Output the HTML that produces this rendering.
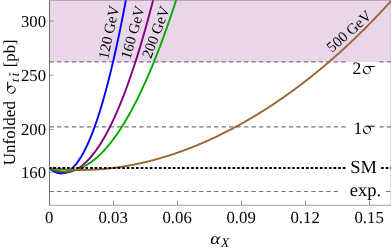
<!DOCTYPE html>
<html><head><meta charset="utf-8"><style>
html,body{margin:0;padding:0;background:#fff;}
svg{display:block;will-change:transform;}
text{font-family:"Liberation Serif",serif;fill:#000;text-rendering:geometricPrecision;}
</style></head><body>
<svg width="391" height="248" viewBox="0 0 391 248">
<rect width="391" height="248" fill="#fff"/>
<defs><g id="sig"><path fill="#000" fill-rule="evenodd" d="M7.40,-2.08A3.75,4.2 30 1 0 0.90,-5.83A3.75,4.2 30 1 0 7.40,-2.08ZM6.57,-5.46A2.85,3.35 -32 1 0 1.73,-2.44A2.85,3.35 -32 1 0 6.57,-5.46Z"/><path fill="#000" d="M4.6,-8.05 L11.9,-8.05 Q12.3,-7.6 11.6,-7.05 L5.6,-7.05 Z"/></g><clipPath id="c"><rect x="49.5" y="0" width="341.5" height="205"/></clipPath></defs>
<rect x="49.5" y="0" width="341" height="61.9" fill="#E9D6E9"/>
<g stroke="#747474" stroke-width="1.15" stroke-dasharray="4.35 3.13" fill="none">
<path d="M49.5,61.9H346"/><path d="M379.3,61.9H391"/>
<path d="M49.5,126.9H346"/><path d="M379.3,126.9H391"/>
<path d="M49.5,191.5H339"/><path d="M385.9,191.5H391"/>
</g>
<g clip-path="url(#c)">
<path d="M49.50,168.00 L50.00,168.46 L50.50,168.91 L51.00,169.33 L51.50,169.73 L52.00,170.11 L52.50,170.47 L53.00,170.81 L53.50,171.13 L54.00,171.43 L54.50,171.70 L55.00,171.96 L55.50,172.20 L56.00,172.41 L56.50,172.61 L57.00,172.78 L57.50,172.94 L58.00,173.07 L58.50,173.19 L59.00,173.28 L59.50,173.35 L60.00,173.40 L60.50,173.43 L61.00,173.44 L61.50,173.43 L62.00,173.40 L62.50,173.35 L63.00,173.28 L63.50,173.18 L64.00,173.07 L64.50,172.94 L65.00,172.78 L65.50,172.61 L66.00,172.41 L66.50,172.19 L67.00,171.96 L67.50,171.70 L68.00,171.42 L68.50,171.12 L69.00,170.80 L69.50,170.46 L70.00,170.10 L70.50,169.72 L71.00,169.32 L71.50,168.90 L72.00,168.45 L72.50,167.99 L73.00,167.50 L73.50,167.00 L74.00,166.47 L74.50,165.93 L75.00,165.36 L75.50,164.77 L76.00,164.17 L76.50,163.54 L77.00,162.89 L77.50,162.22 L78.00,161.53 L78.50,160.82 L79.00,160.09 L79.50,159.34 L80.00,158.56 L80.50,157.77 L81.00,156.96 L81.50,156.12 L82.00,155.27 L82.50,154.39 L83.00,153.50 L83.50,152.58 L84.00,151.64 L84.50,150.68 L85.00,149.71 L85.50,148.71 L86.00,147.69 L86.50,146.65 L87.00,145.59 L87.50,144.50 L88.00,143.40 L88.50,142.28 L89.00,141.14 L89.50,139.97 L90.00,138.79 L90.50,137.58 L91.00,136.36 L91.50,135.11 L92.00,133.85 L92.50,132.56 L93.00,131.25 L93.50,129.92 L94.00,128.57 L94.50,127.20 L95.00,125.81 L95.50,124.40 L96.00,122.97 L96.50,121.52 L97.00,120.05 L97.50,118.55 L98.00,117.04 L98.50,115.50 L99.00,113.95 L99.50,112.37 L100.00,110.78 L100.50,109.16 L101.00,107.52 L101.50,105.86 L102.00,104.19 L102.50,102.49 L103.00,100.77 L103.50,99.03 L104.00,97.27 L104.50,95.48 L105.00,93.68 L105.50,91.86 L106.00,90.02 L106.50,88.15 L107.00,86.27 L107.50,84.36 L108.00,82.44 L108.50,80.49 L109.00,78.52 L109.50,76.54 L110.00,74.53 L110.50,72.50 L111.00,70.45 L111.50,68.38 L112.00,66.29 L112.50,64.18 L113.00,62.05 L113.50,59.89 L114.00,57.72 L114.50,55.53 L115.00,53.31 L115.50,51.08 L116.00,48.82 L116.50,46.55 L117.00,44.25 L117.50,41.93 L118.00,39.60 L118.50,37.24 L119.00,34.86 L119.50,32.46 L120.00,30.04 L120.50,27.60 L121.00,25.14 L121.50,22.66 L122.00,20.15 L122.50,17.63 L123.00,15.09 L123.50,12.52 L124.00,9.94 L124.50,7.33 L125.00,4.71 L125.50,2.06 L126.00,-0.61 L126.50,-3.29" fill="none" stroke="#0000FF" stroke-width="1.9" stroke-linejoin="round"/>
<path d="M49.50,168.00 L50.00,168.31 L50.50,168.61 L51.00,168.90 L51.50,169.18 L52.00,169.45 L52.50,169.71 L53.00,169.95 L53.50,170.19 L54.00,170.41 L54.50,170.63 L55.00,170.83 L55.50,171.02 L56.00,171.20 L56.50,171.38 L57.00,171.53 L57.50,171.68 L58.00,171.82 L58.50,171.95 L59.00,172.06 L59.50,172.17 L60.00,172.26 L60.50,172.35 L61.00,172.42 L61.50,172.48 L62.00,172.53 L62.50,172.57 L63.00,172.60 L63.50,172.62 L64.00,172.63 L64.50,172.62 L65.00,172.61 L65.50,172.58 L66.00,172.54 L66.50,172.50 L67.00,172.44 L67.50,172.37 L68.00,172.29 L68.50,172.20 L69.00,172.10 L69.50,171.99 L70.00,171.86 L70.50,171.73 L71.00,171.58 L71.50,171.43 L72.00,171.26 L72.50,171.08 L73.00,170.89 L73.50,170.69 L74.00,170.48 L74.50,170.26 L75.00,170.03 L75.50,169.79 L76.00,169.53 L76.50,169.27 L77.00,168.99 L77.50,168.71 L78.00,168.41 L78.50,168.10 L79.00,167.78 L79.50,167.45 L80.00,167.11 L80.50,166.76 L81.00,166.40 L81.50,166.02 L82.00,165.64 L82.50,165.24 L83.00,164.84 L83.50,164.42 L84.00,163.99 L84.50,163.55 L85.00,163.10 L85.50,162.64 L86.00,162.17 L86.50,161.69 L87.00,161.19 L87.50,160.69 L88.00,160.18 L88.50,159.65 L89.00,159.11 L89.50,158.56 L90.00,158.01 L90.50,157.44 L91.00,156.86 L91.50,156.27 L92.00,155.66 L92.50,155.05 L93.00,154.43 L93.50,153.79 L94.00,153.15 L94.50,152.49 L95.00,151.82 L95.50,151.14 L96.00,150.45 L96.50,149.75 L97.00,149.04 L97.50,148.32 L98.00,147.59 L98.50,146.85 L99.00,146.09 L99.50,145.33 L100.00,144.55 L100.50,143.76 L101.00,142.97 L101.50,142.16 L102.00,141.34 L102.50,140.51 L103.00,139.66 L103.50,138.81 L104.00,137.95 L104.50,137.08 L105.00,136.19 L105.50,135.29 L106.00,134.39 L106.50,133.47 L107.00,132.54 L107.50,131.60 L108.00,130.65 L108.50,129.69 L109.00,128.72 L109.50,127.74 L110.00,126.74 L110.50,125.74 L111.00,124.72 L111.50,123.70 L112.00,122.66 L112.50,121.61 L113.00,120.55 L113.50,119.48 L114.00,118.40 L114.50,117.31 L115.00,116.21 L115.50,115.09 L116.00,113.97 L116.50,112.83 L117.00,111.69 L117.50,110.53 L118.00,109.36 L118.50,108.18 L119.00,106.99 L119.50,105.79 L120.00,104.58 L120.50,103.36 L121.00,102.13 L121.50,100.88 L122.00,99.63 L122.50,98.36 L123.00,97.09 L123.50,95.80 L124.00,94.50 L124.50,93.19 L125.00,91.87 L125.50,90.54 L126.00,89.20 L126.50,87.85 L127.00,86.48 L127.50,85.11 L128.00,83.72 L128.50,82.33 L129.00,80.92 L129.50,79.50 L130.00,78.07 L130.50,76.63 L131.00,75.18 L131.50,73.72 L132.00,72.25 L132.50,70.76 L133.00,69.27 L133.50,67.76 L134.00,66.25 L134.50,64.72 L135.00,63.18 L135.50,61.64 L136.00,60.08 L136.50,58.51 L137.00,56.92 L137.50,55.33 L138.00,53.73 L138.50,52.12 L139.00,50.49 L139.50,48.85 L140.00,47.21 L140.50,45.55 L141.00,43.88 L141.50,42.20 L142.00,40.51 L142.50,38.81 L143.00,37.10 L143.50,35.38 L144.00,33.64 L144.50,31.90 L145.00,30.14 L145.50,28.38 L146.00,26.60 L146.50,24.81 L147.00,23.01 L147.50,21.21 L148.00,19.38 L148.50,17.55 L149.00,15.71 L149.50,13.86 L150.00,11.99 L150.50,10.12 L151.00,8.23 L151.50,6.34 L152.00,4.43 L152.50,2.51 L153.00,0.58 L153.50,-1.36 L154.00,-3.31" fill="none" stroke="#800080" stroke-width="1.9" stroke-linejoin="round"/>
<path d="M49.50,168.00 L50.00,168.22 L50.50,168.42 L51.00,168.63 L51.50,168.82 L52.00,169.01 L52.50,169.19 L53.00,169.36 L53.50,169.53 L54.00,169.69 L54.50,169.84 L55.00,169.99 L55.50,170.13 L56.00,170.26 L56.50,170.39 L57.00,170.50 L57.50,170.61 L58.00,170.72 L58.50,170.82 L59.00,170.91 L59.50,170.99 L60.00,171.07 L60.50,171.14 L61.00,171.20 L61.50,171.25 L62.00,171.30 L62.50,171.34 L63.00,171.38 L63.50,171.41 L64.00,171.43 L64.50,171.44 L65.00,171.45 L65.50,171.45 L66.00,171.44 L66.50,171.43 L67.00,171.40 L67.50,171.38 L68.00,171.34 L68.50,171.30 L69.00,171.25 L69.50,171.19 L70.00,171.13 L70.50,171.06 L71.00,170.98 L71.50,170.90 L72.00,170.81 L72.50,170.71 L73.00,170.61 L73.50,170.50 L74.00,170.38 L74.50,170.25 L75.00,170.12 L75.50,169.98 L76.00,169.83 L76.50,169.68 L77.00,169.52 L77.50,169.35 L78.00,169.18 L78.50,169.00 L79.00,168.81 L79.50,168.61 L80.00,168.41 L80.50,168.20 L81.00,167.99 L81.50,167.76 L82.00,167.53 L82.50,167.30 L83.00,167.05 L83.50,166.80 L84.00,166.54 L84.50,166.28 L85.00,166.01 L85.50,165.73 L86.00,165.44 L86.50,165.15 L87.00,164.85 L87.50,164.54 L88.00,164.23 L88.50,163.91 L89.00,163.58 L89.50,163.25 L90.00,162.91 L90.50,162.56 L91.00,162.20 L91.50,161.84 L92.00,161.47 L92.50,161.09 L93.00,160.71 L93.50,160.32 L94.00,159.92 L94.50,159.52 L95.00,159.11 L95.50,158.69 L96.00,158.27 L96.50,157.83 L97.00,157.40 L97.50,156.95 L98.00,156.50 L98.50,156.04 L99.00,155.57 L99.50,155.10 L100.00,154.62 L100.50,154.13 L101.00,153.63 L101.50,153.13 L102.00,152.62 L102.50,152.11 L103.00,151.59 L103.50,151.06 L104.00,150.52 L104.50,149.98 L105.00,149.43 L105.50,148.87 L106.00,148.30 L106.50,147.73 L107.00,147.15 L107.50,146.57 L108.00,145.98 L108.50,145.38 L109.00,144.77 L109.50,144.16 L110.00,143.54 L110.50,142.91 L111.00,142.28 L111.50,141.64 L112.00,140.99 L112.50,140.34 L113.00,139.67 L113.50,139.01 L114.00,138.33 L114.50,137.65 L115.00,136.96 L115.50,136.26 L116.00,135.56 L116.50,134.85 L117.00,134.13 L117.50,133.40 L118.00,132.67 L118.50,131.94 L119.00,131.19 L119.50,130.44 L120.00,129.68 L120.50,128.91 L121.00,128.14 L121.50,127.36 L122.00,126.57 L122.50,125.78 L123.00,124.98 L123.50,124.17 L124.00,123.35 L124.50,122.53 L125.00,121.70 L125.50,120.87 L126.00,120.02 L126.50,119.18 L127.00,118.32 L127.50,117.45 L128.00,116.58 L128.50,115.71 L129.00,114.82 L129.50,113.93 L130.00,113.03 L130.50,112.13 L131.00,111.21 L131.50,110.29 L132.00,109.37 L132.50,108.44 L133.00,107.49 L133.50,106.55 L134.00,105.59 L134.50,104.63 L135.00,103.66 L135.50,102.69 L136.00,101.71 L136.50,100.72 L137.00,99.72 L137.50,98.72 L138.00,97.71 L138.50,96.69 L139.00,95.67 L139.50,94.64 L140.00,93.60 L140.50,92.56 L141.00,91.50 L141.50,90.45 L142.00,89.38 L142.50,88.31 L143.00,87.23 L143.50,86.14 L144.00,85.05 L144.50,83.95 L145.00,82.84 L145.50,81.73 L146.00,80.60 L146.50,79.48 L147.00,78.34 L147.50,77.20 L148.00,76.05 L148.50,74.89 L149.00,73.73 L149.50,72.56 L150.00,71.38 L150.50,70.20 L151.00,69.01 L151.50,67.81 L152.00,66.61 L152.50,65.39 L153.00,64.17 L153.50,62.95 L154.00,61.72 L154.50,60.48 L155.00,59.23 L155.50,57.98 L156.00,56.72 L156.50,55.45 L157.00,54.17 L157.50,52.89 L158.00,51.60 L158.50,50.31 L159.00,49.01 L159.50,47.70 L160.00,46.38 L160.50,45.06 L161.00,43.73 L161.50,42.39 L162.00,41.05 L162.50,39.69 L163.00,38.34 L163.50,36.97 L164.00,35.60 L164.50,34.22 L165.00,32.83 L165.50,31.44 L166.00,30.04 L166.50,28.64 L167.00,27.22 L167.50,25.80 L168.00,24.37 L168.50,22.94 L169.00,21.50 L169.50,20.05 L170.00,18.59 L170.50,17.13 L171.00,15.66 L171.50,14.18 L172.00,12.70 L172.50,11.21 L173.00,9.71 L173.50,8.21 L174.00,6.70 L174.50,5.18 L175.00,3.65 L175.50,2.12 L176.00,0.58 L176.50,-0.96 L177.00,-2.52" fill="none" stroke="#00AA00" stroke-width="1.9" stroke-linejoin="round"/>
<path d="M49.50,168.00 L50.00,168.06 L50.50,168.13 L51.00,168.19 L51.50,168.25 L52.00,168.31 L52.50,168.37 L53.00,168.43 L53.50,168.48 L54.00,168.54 L54.50,168.59 L55.00,168.64 L55.50,168.70 L56.00,168.75 L56.50,168.80 L57.00,168.85 L57.50,168.90 L58.00,168.94 L58.50,168.99 L59.00,169.03 L59.50,169.08 L60.00,169.12 L60.50,169.16 L61.00,169.20 L61.50,169.24 L62.00,169.28 L62.50,169.32 L63.00,169.35 L63.50,169.39 L64.00,169.42 L64.50,169.46 L65.00,169.49 L65.50,169.52 L66.00,169.55 L66.50,169.58 L67.00,169.61 L67.50,169.64 L68.00,169.66 L68.50,169.69 L69.00,169.71 L69.50,169.73 L70.00,169.76 L70.50,169.78 L71.00,169.80 L71.50,169.82 L72.00,169.83 L72.50,169.85 L73.00,169.87 L73.50,169.88 L74.00,169.90 L74.50,169.91 L75.00,169.92 L75.50,169.93 L76.00,169.94 L76.50,169.95 L77.00,169.96 L77.50,169.97 L78.00,169.97 L78.50,169.98 L79.00,169.98 L79.50,169.98 L80.00,169.99 L80.50,169.99 L81.00,169.99 L81.50,169.99 L82.00,169.98 L82.50,169.98 L83.00,169.98 L83.50,169.97 L84.00,169.97 L84.50,169.96 L85.00,169.95 L85.50,169.94 L86.00,169.93 L86.50,169.92 L87.00,169.91 L87.50,169.90 L88.00,169.88 L88.50,169.87 L89.00,169.85 L89.50,169.83 L90.00,169.82 L90.50,169.80 L91.00,169.78 L91.50,169.76 L92.00,169.74 L92.50,169.71 L93.00,169.69 L93.50,169.67 L94.00,169.64 L94.50,169.61 L95.00,169.59 L95.50,169.56 L96.00,169.53 L96.50,169.50 L97.00,169.47 L97.50,169.44 L98.00,169.40 L98.50,169.37 L99.00,169.33 L99.50,169.30 L100.00,169.26 L100.50,169.22 L101.00,169.18 L101.50,169.15 L102.00,169.10 L102.50,169.06 L103.00,169.02 L103.50,168.98 L104.00,168.93 L104.50,168.89 L105.00,168.84 L105.50,168.79 L106.00,168.75 L106.50,168.70 L107.00,168.65 L107.50,168.60 L108.00,168.54 L108.50,168.49 L109.00,168.44 L109.50,168.38 L110.00,168.33 L110.50,168.27 L111.00,168.21 L111.50,168.15 L112.00,168.10 L112.50,168.04 L113.00,167.97 L113.50,167.91 L114.00,167.85 L114.50,167.79 L115.00,167.72 L115.50,167.65 L116.00,167.59 L116.50,167.52 L117.00,167.45 L117.50,167.38 L118.00,167.31 L118.50,167.24 L119.00,167.17 L119.50,167.10 L120.00,167.02 L120.50,166.95 L121.00,166.87 L121.50,166.80 L122.00,166.72 L122.50,166.64 L123.00,166.56 L123.50,166.48 L124.00,166.40 L124.50,166.32 L125.00,166.23 L125.50,166.15 L126.00,166.07 L126.50,165.98 L127.00,165.89 L127.50,165.81 L128.00,165.72 L128.50,165.63 L129.00,165.54 L129.50,165.45 L130.00,165.36 L130.50,165.26 L131.00,165.17 L131.50,165.07 L132.00,164.98 L132.50,164.88 L133.00,164.79 L133.50,164.69 L134.00,164.59 L134.50,164.49 L135.00,164.39 L135.50,164.29 L136.00,164.18 L136.50,164.08 L137.00,163.98 L137.50,163.87 L138.00,163.76 L138.50,163.66 L139.00,163.55 L139.50,163.44 L140.00,163.33 L140.50,163.22 L141.00,163.11 L141.50,163.00 L142.00,162.88 L142.50,162.77 L143.00,162.66 L143.50,162.54 L144.00,162.42 L144.50,162.31 L145.00,162.19 L145.50,162.07 L146.00,161.95 L146.50,161.83 L147.00,161.71 L147.50,161.58 L148.00,161.46 L148.50,161.34 L149.00,161.21 L149.50,161.08 L150.00,160.96 L150.50,160.83 L151.00,160.70 L151.50,160.57 L152.00,160.44 L152.50,160.31 L153.00,160.18 L153.50,160.05 L154.00,159.91 L154.50,159.78 L155.00,159.64 L155.50,159.51 L156.00,159.37 L156.50,159.23 L157.00,159.09 L157.50,158.95 L158.00,158.81 L158.50,158.67 L159.00,158.53 L159.50,158.38 L160.00,158.24 L160.50,158.09 L161.00,157.95 L161.50,157.80 L162.00,157.66 L162.50,157.51 L163.00,157.36 L163.50,157.21 L164.00,157.06 L164.50,156.91 L165.00,156.75 L165.50,156.60 L166.00,156.45 L166.50,156.29 L167.00,156.13 L167.50,155.98 L168.00,155.82 L168.50,155.66 L169.00,155.50 L169.50,155.34 L170.00,155.18 L170.50,155.02 L171.00,154.86 L171.50,154.69 L172.00,154.53 L172.50,154.36 L173.00,154.20 L173.50,154.03 L174.00,153.86 L174.50,153.70 L175.00,153.53 L175.50,153.36 L176.00,153.19 L176.50,153.01 L177.00,152.84 L177.50,152.67 L178.00,152.49 L178.50,152.32 L179.00,152.14 L179.50,151.97 L180.00,151.79 L180.50,151.61 L181.00,151.43 L181.50,151.25 L182.00,151.07 L182.50,150.89 L183.00,150.70 L183.50,150.52 L184.00,150.34 L184.50,150.15 L185.00,149.97 L185.50,149.78 L186.00,149.59 L186.50,149.40 L187.00,149.21 L187.50,149.02 L188.00,148.83 L188.50,148.64 L189.00,148.45 L189.50,148.25 L190.00,148.06 L190.50,147.87 L191.00,147.67 L191.50,147.47 L192.00,147.28 L192.50,147.08 L193.00,146.88 L193.50,146.68 L194.00,146.48 L194.50,146.28 L195.00,146.07 L195.50,145.87 L196.00,145.67 L196.50,145.46 L197.00,145.26 L197.50,145.05 L198.00,144.84 L198.50,144.63 L199.00,144.42 L199.50,144.21 L200.00,144.00 L200.50,143.79 L201.00,143.58 L201.50,143.37 L202.00,143.15 L202.50,142.94 L203.00,142.72 L203.50,142.51 L204.00,142.29 L204.50,142.07 L205.00,141.85 L205.50,141.63 L206.00,141.41 L206.50,141.19 L207.00,140.97 L207.50,140.74 L208.00,140.52 L208.50,140.30 L209.00,140.07 L209.50,139.84 L210.00,139.62 L210.50,139.39 L211.00,139.16 L211.50,138.93 L212.00,138.70 L212.50,138.47 L213.00,138.24 L213.50,138.01 L214.00,137.77 L214.50,137.54 L215.00,137.30 L215.50,137.07 L216.00,136.83 L216.50,136.59 L217.00,136.35 L217.50,136.11 L218.00,135.87 L218.50,135.63 L219.00,135.39 L219.50,135.15 L220.00,134.90 L220.50,134.66 L221.00,134.42 L221.50,134.17 L222.00,133.92 L222.50,133.67 L223.00,133.43 L223.50,133.18 L224.00,132.93 L224.50,132.68 L225.00,132.43 L225.50,132.17 L226.00,131.92 L226.50,131.67 L227.00,131.41 L227.50,131.15 L228.00,130.90 L228.50,130.64 L229.00,130.38 L229.50,130.12 L230.00,129.86 L230.50,129.60 L231.00,129.34 L231.50,129.08 L232.00,128.82 L232.50,128.55 L233.00,128.29 L233.50,128.02 L234.00,127.76 L234.50,127.49 L235.00,127.22 L235.50,126.95 L236.00,126.68 L236.50,126.41 L237.00,126.14 L237.50,125.87 L238.00,125.60 L238.50,125.32 L239.00,125.05 L239.50,124.77 L240.00,124.50 L240.50,124.22 L241.00,123.94 L241.50,123.66 L242.00,123.38 L242.50,123.10 L243.00,122.82 L243.50,122.54 L244.00,122.26 L244.50,121.97 L245.00,121.69 L245.50,121.40 L246.00,121.12 L246.50,120.83 L247.00,120.54 L247.50,120.25 L248.00,119.96 L248.50,119.67 L249.00,119.38 L249.50,119.09 L250.00,118.80 L250.50,118.51 L251.00,118.21 L251.50,117.92 L252.00,117.62 L252.50,117.32 L253.00,117.03 L253.50,116.73 L254.00,116.43 L254.50,116.13 L255.00,115.83 L255.50,115.53 L256.00,115.22 L256.50,114.92 L257.00,114.61 L257.50,114.31 L258.00,114.00 L258.50,113.70 L259.00,113.39 L259.50,113.08 L260.00,112.77 L260.50,112.46 L261.00,112.15 L261.50,111.84 L262.00,111.53 L262.50,111.21 L263.00,110.90 L263.50,110.58 L264.00,110.27 L264.50,109.95 L265.00,109.63 L265.50,109.32 L266.00,109.00 L266.50,108.68 L267.00,108.35 L267.50,108.03 L268.00,107.71 L268.50,107.39 L269.00,107.06 L269.50,106.74 L270.00,106.41 L270.50,106.08 L271.00,105.76 L271.50,105.43 L272.00,105.10 L272.50,104.77 L273.00,104.44 L273.50,104.11 L274.00,103.77 L274.50,103.44 L275.00,103.11 L275.50,102.77 L276.00,102.43 L276.50,102.10 L277.00,101.76 L277.50,101.42 L278.00,101.08 L278.50,100.74 L279.00,100.40 L279.50,100.06 L280.00,99.72 L280.50,99.37 L281.00,99.03 L281.50,98.68 L282.00,98.34 L282.50,97.99 L283.00,97.64 L283.50,97.29 L284.00,96.94 L284.50,96.59 L285.00,96.24 L285.50,95.89 L286.00,95.53 L286.50,95.18 L287.00,94.83 L287.50,94.47 L288.00,94.11 L288.50,93.76 L289.00,93.40 L289.50,93.04 L290.00,92.68 L290.50,92.32 L291.00,91.96 L291.50,91.59 L292.00,91.23 L292.50,90.87 L293.00,90.50 L293.50,90.13 L294.00,89.77 L294.50,89.40 L295.00,89.03 L295.50,88.66 L296.00,88.29 L296.50,87.92 L297.00,87.55 L297.50,87.17 L298.00,86.80 L298.50,86.43 L299.00,86.05 L299.50,85.67 L300.00,85.30 L300.50,84.92 L301.00,84.54 L301.50,84.16 L302.00,83.78 L302.50,83.40 L303.00,83.01 L303.50,82.63 L304.00,82.25 L304.50,81.86 L305.00,81.48 L305.50,81.09 L306.00,80.70 L306.50,80.31 L307.00,79.92 L307.50,79.53 L308.00,79.14 L308.50,78.75 L309.00,78.35 L309.50,77.96 L310.00,77.56 L310.50,77.17 L311.00,76.77 L311.50,76.37 L312.00,75.98 L312.50,75.58 L313.00,75.18 L313.50,74.77 L314.00,74.37 L314.50,73.97 L315.00,73.57 L315.50,73.16 L316.00,72.75 L316.50,72.35 L317.00,71.94 L317.50,71.53 L318.00,71.12 L318.50,70.71 L319.00,70.30 L319.50,69.89 L320.00,69.48 L320.50,69.06 L321.00,68.65 L321.50,68.23 L322.00,67.82 L322.50,67.40 L323.00,66.98 L323.50,66.56 L324.00,66.14 L324.50,65.72 L325.00,65.30 L325.50,64.87 L326.00,64.45 L326.50,64.02 L327.00,63.60 L327.50,63.17 L328.00,62.74 L328.50,62.32 L329.00,61.89 L329.50,61.46 L330.00,61.02 L330.50,60.59 L331.00,60.16 L331.50,59.72 L332.00,59.29 L332.50,58.85 L333.00,58.42 L333.50,57.98 L334.00,57.54 L334.50,57.10 L335.00,56.66 L335.50,56.22 L336.00,55.78 L336.50,55.33 L337.00,54.89 L337.50,54.44 L338.00,54.00 L338.50,53.55 L339.00,53.10 L339.50,52.65 L340.00,52.20 L340.50,51.75 L341.00,51.30 L341.50,50.85 L342.00,50.39 L342.50,49.94 L343.00,49.48 L343.50,49.02 L344.00,48.57 L344.50,48.11 L345.00,47.65 L345.50,47.19 L346.00,46.73 L346.50,46.26 L347.00,45.80 L347.50,45.34 L348.00,44.87 L348.50,44.40 L349.00,43.94 L349.50,43.47 L350.00,43.00 L350.50,42.53 L351.00,42.06 L351.50,41.59 L352.00,41.11 L352.50,40.64 L353.00,40.16 L353.50,39.69 L354.00,39.21 L354.50,38.73 L355.00,38.25 L355.50,37.77 L356.00,37.29 L356.50,36.81 L357.00,36.33 L357.50,35.84 L358.00,35.36 L358.50,34.87 L359.00,34.39 L359.50,33.90 L360.00,33.41 L360.50,32.92 L361.00,32.43 L361.50,31.94 L362.00,31.44 L362.50,30.95 L363.00,30.46 L363.50,29.96 L364.00,29.46 L364.50,28.96 L365.00,28.47 L365.50,27.97 L366.00,27.47 L366.50,26.96 L367.00,26.46 L367.50,25.96 L368.00,25.45 L368.50,24.95 L369.00,24.44 L369.50,23.93 L370.00,23.42 L370.50,22.91 L371.00,22.40 L371.50,21.89 L372.00,21.38 L372.50,20.86 L373.00,20.35 L373.50,19.83 L374.00,19.31 L374.50,18.79 L375.00,18.27 L375.50,17.75 L376.00,17.23 L376.50,16.71 L377.00,16.19 L377.50,15.66 L378.00,15.14 L378.50,14.61 L379.00,14.08 L379.50,13.55 L380.00,13.02 L380.50,12.49 L381.00,11.96 L381.50,11.43 L382.00,10.90 L382.50,10.36 L383.00,9.82 L383.50,9.29 L384.00,8.75 L384.50,8.21 L385.00,7.67 L385.50,7.13 L386.00,6.59 L386.50,6.04 L387.00,5.50 L387.50,4.95 L388.00,4.41 L388.50,3.86 L389.00,3.31 L389.50,2.76 L390.00,2.21 L390.50,1.66 L391.00,1.10 L391.50,0.55 L392.00,-0.01 L392.50,-0.56 L393.00,-1.12 L393.50,-1.68 L394.00,-2.24 L394.50,-2.80" fill="none" stroke="#996633" stroke-width="1.9" stroke-linejoin="round"/>
</g>
<g stroke="#000" stroke-width="2.1" stroke-dasharray="2.65 1.945" fill="none">
<path d="M49.5,167.95H346.5" stroke-dashoffset="0.8"/><path d="M381.1,167.95H391"/>
</g>
<g stroke="#666" stroke-width="0.7" fill="none">
<path d="M49.5,0V205.25" stroke="#4a4a4a" stroke-width="0.8"/><path d="M49.5,205.25H391" stroke="#777"/>
<path d="M49.5,0.4H391" stroke="#8a7a8a" stroke-opacity="0.85"/>
<path d="M390.8,0V205.2" stroke-opacity="0.5"/>
<path d="M49.5,201V205.2M113.5,201V205.2M177.5,201V205.2M241.5,201V205.2M305.5,201V205.2M369.5,201V205.2"/>
<path d="M49.5,21.1H53.3M49.5,75.2H53.3M49.5,129.5H53.3M49.5,172.3H53.3"/>
</g>
<g font-size="16.7px" text-anchor="end">
<text x="46" y="27">300</text>
<text x="46" y="81">250</text>
<text x="46" y="135">200</text>
<text x="46" y="177.8">160</text>
</g>
<g font-size="16.8px" text-anchor="middle">
<text x="49.3" y="222.7">0</text>
<text x="113.1" y="222.7">0.03</text>
<text x="177.1" y="222.7">0.06</text>
<text x="241.1" y="222.7">0.09</text>
<text x="305.1" y="222.7">0.12</text>
<text x="369.1" y="222.7">0.15</text>
</g>
<text x="210.3" y="243.7" font-size="16.5px" font-style="italic" textLength="10" lengthAdjust="spacingAndGlyphs">α</text>
<text x="221" y="247" font-size="13.5px" font-style="italic">X</text>
<g font-size="18.5px">
<text x="352.6" y="73.9" font-size="17.5px">2</text><use href="#sig" x="362.8" y="74"/>
<text x="353.5" y="133.7" font-size="17.5px">1</text><use href="#sig" x="362.8" y="133.8"/>
<text x="350.3" y="172.8">SM</text>
<text x="349.8" y="196.2">exp.</text>
</g>
<g font-size="15px" word-spacing="-0.5px">
<text transform="translate(107.95,59.7) rotate(-78)">120 GeV</text>
<text transform="translate(130.2,59.65) rotate(-74)">160 GeV</text>
<text transform="translate(150.9,59.3) rotate(-69.5)">200 GeV</text>
<text transform="translate(332.1,53.0) rotate(-41.5)">500 GeV</text>
</g>
<g transform="translate(15,0) rotate(-90)" font-size="17px">
<text x="-165.3" y="0">Unfolded</text>
<use href="#sig" transform="translate(-93.9,0.4) scale(1.02)"/>
<text x="-82" y="3.6" font-size="12px" font-style="italic">t</text>
<text x="-76.3" y="3.6" font-size="12px" font-style="italic">t</text>
<path d="M-75.9,-5.1h3.2" stroke="#000" stroke-width="0.8"/>
<text x="-67.2" y="0" font-size="16.6px">[pb]</text>
</g>
</svg>
</body></html>
